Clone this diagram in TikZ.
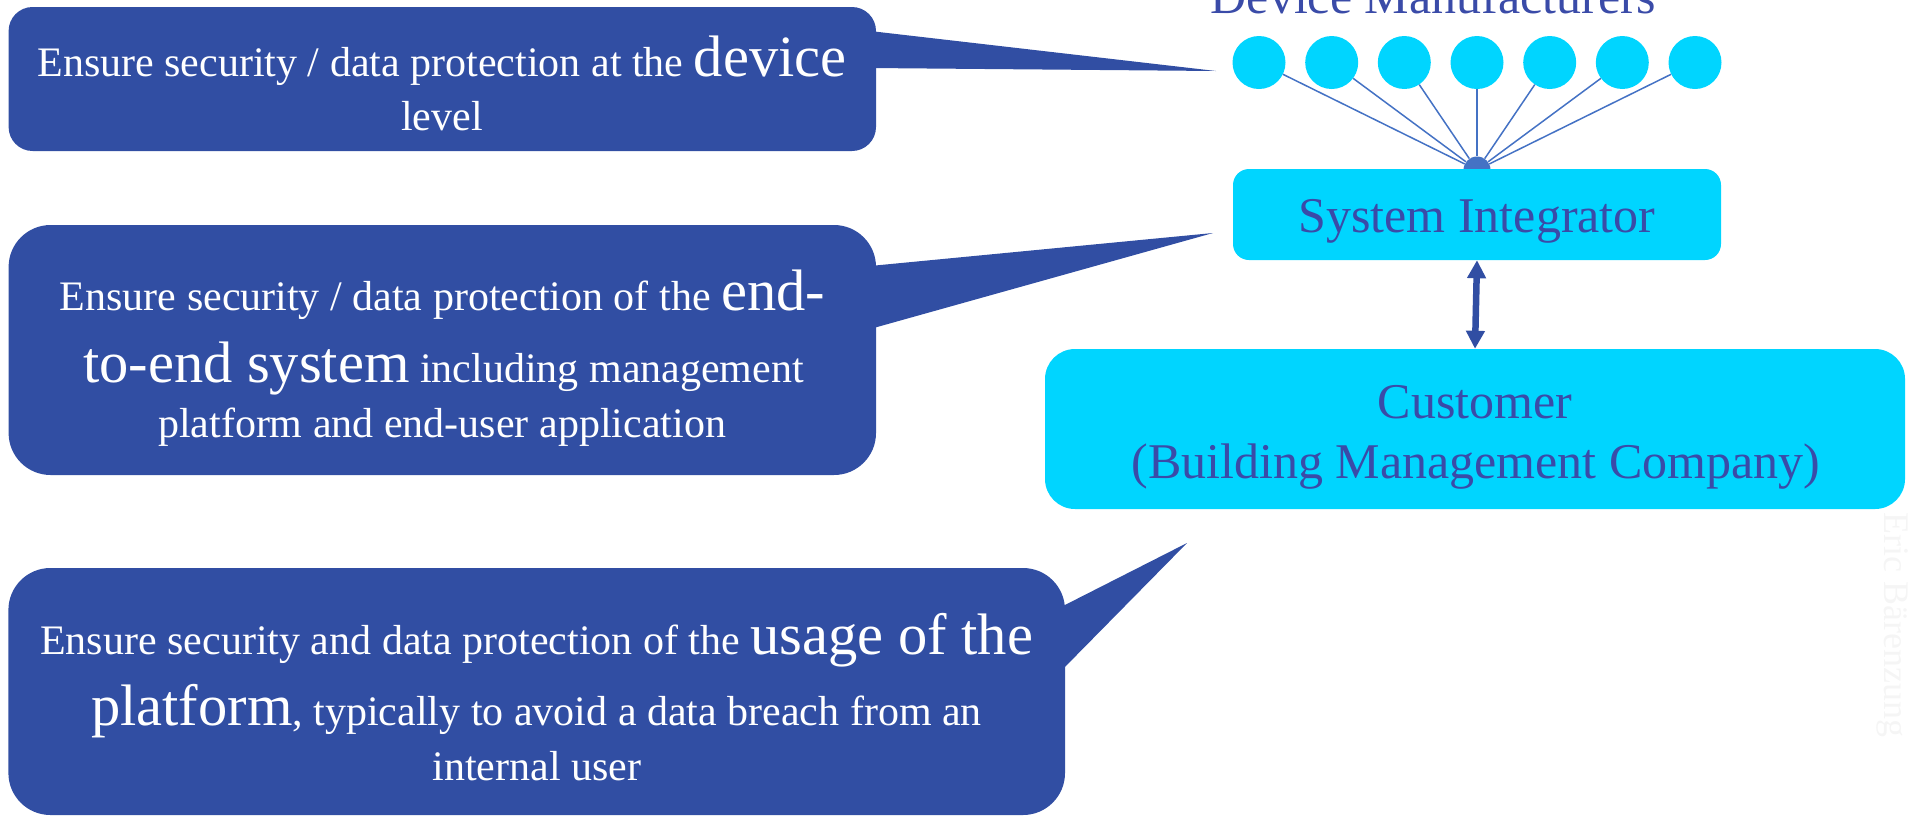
\documentclass[tikz,border=0pt]{standalone}
\usepackage{fontspec}
\setmainfont{Liberation Serif}
\usetikzlibrary{arrows.meta}

\definecolor{calloutblue}{HTML}{314EA3}
\definecolor{boxcyan}{HTML}{00D5FF}
\definecolor{labelblue}{HTML}{3A4BA8}
\definecolor{linkblue}{HTML}{4472C4}
\definecolor{markgray}{HTML}{F5F5F5}

\newcommand\calloutfont{\fontsize{42}{50}\selectfont}
\newcommand\stressfont{\fontsize{58.5}{70}\selectfont}
\newcommand\rolefont{\fontsize{50}{60}\selectfont}

\tikzset{
  callout/.style={fill=calloutblue},
  calltext/.style={anchor=base, text=white, inner sep=0pt, font=\calloutfont},
  rolebox/.style={fill=boxcyan, draw=none, rectangle, inner sep=0pt},
  roletext/.style={anchor=base, text=labelblue, inner sep=0pt, font=\rolefont},
  device/.style={circle, fill=boxcyan, minimum size=53pt, inner sep=0pt},
  link/.style={draw=linkblue, line width=1.5pt},
  biarrow/.style={draw=calloutblue, line width=6.5pt,
    {Triangle[width=18pt,length=18pt]}-{Triangle[width=18pt,length=18pt]}}
}

\begin{document}
\begin{tikzpicture}[x=1pt,y=-1pt]
\useasboundingbox (0,0) rectangle (1908,815);

% ---- device manufacturers and their links to the integrator ----
\node[roletext] (dmlabel) at (1433.5,13.3) {Device Manufacturers};
\foreach \i/\x in {1/1259,2/1331.7,3/1404.3,4/1477,5/1549.7,6/1622.3,7/1695}
  \node[device] (d\i) at (\x,62.5) {};
\node[circle, fill=linkblue, minimum size=27pt, inner sep=0pt] (hub) at (1477,170) {};
\foreach \i in {1,...,7}
  \draw[link] (d\i) -- (hub);

% ---- system integrator and customer ----
\node[rolebox, minimum width=488pt, minimum height=91pt, rounded corners=16pt] (si) at (1477,214.5) {};
\node[roletext] (silabel) at (1477,232) {System Integrator};

\node[rolebox, minimum width=860pt, minimum height=160pt, rounded corners=30pt] (cust) at (1475,429) {};
\node[roletext] (custa) at (1475,418) {Customer};
\node[roletext] (custb) at (1476,478) {(Building Management Company)};

\draw[biarrow] (si.south) -- (cust.north);

% ---- callout 1: device level ----
\coordinate (tip1) at (1216,71);
\fill[callout, rounded corners=24pt] (8.6,7) rectangle (876,151);
\fill[callout] (870,31) -- (tip1) -- (870,68) -- cycle;
\node[calltext] (c1a) at (442,76) {Ensure security / data protection at the {\stressfont device}};
\node[calltext] (c1b) at (442,130) {level};

% ---- callout 2: end-to-end system ----
\coordinate (tip2) at (1213,233);
\fill[callout, rounded corners=42pt] (8.6,225) rectangle (876,475);
\fill[callout] (870,266) -- (tip2) -- (870,329) -- cycle;
\node[calltext] (c2a) at (442.5,310) {Ensure security / data protection of the {\stressfont end-}};
\node[calltext] (c2b) at (443.5,382) {{\stressfont to-end system} including management};
\node[calltext] (c2c) at (442,437) {platform and end-user application};

% ---- callout 3: usage of the platform ----
\coordinate (tip3) at (1187,543);
\fill[callout, rounded corners=42pt] (8.4,568) rectangle (1065,815);
\fill[callout] (1059,608) -- (tip3) -- (1059,673) -- cycle;
\node[calltext] (c3a) at (536.7,654) {Ensure security and data protection of the {\stressfont usage of the}};
\node[calltext] (c3b) at (536.5,725) {{\stressfont platform}, typically to avoid a data breach from an};
\node[calltext] (c3c) at (537,780) {internal user};

% ---- author mark along the right edge ----
\node[anchor=base west, rotate=-90, text=markgray, inner sep=0pt,
      font=\fontsize{36}{40}\selectfont] (mark) at (1884,512) {Eric Bärenzung};
\end{tikzpicture}
\end{document}
